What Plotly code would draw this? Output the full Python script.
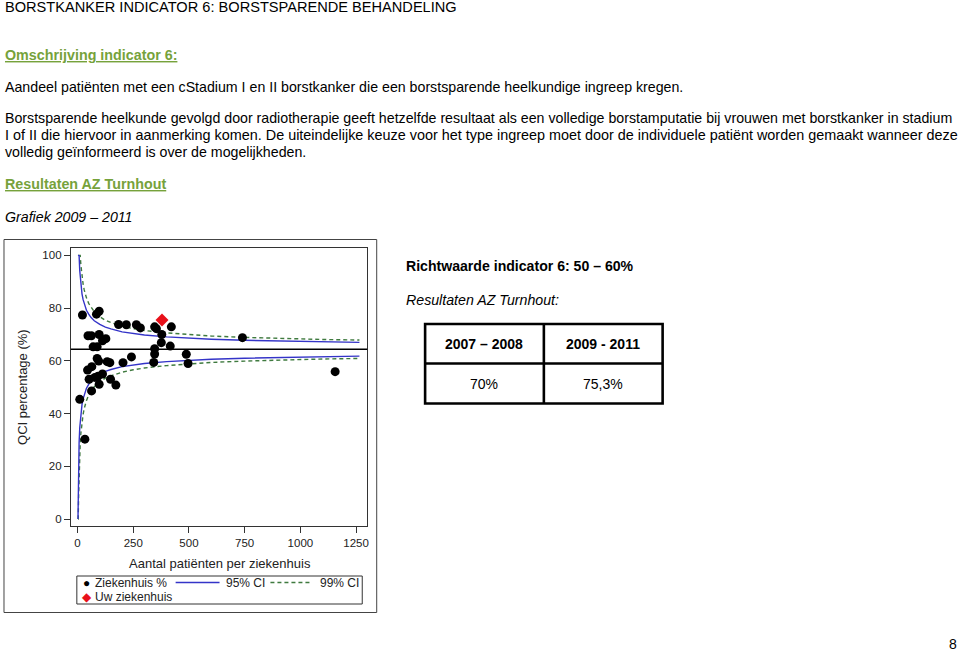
import plotly.graph_objects as go

W, H = 960, 651
FONT = "Liberation Sans, Arial, sans-serif"
GREEN = "#76a23b"

# ---------------- data ----------------
hosp_n = [10, 22, 33, 45, 47, 52, 62, 64, 63, 70, 78, 85, 88, 88, 92, 95, 97, 97, 97,
          112, 112, 127, 133, 145, 148, 172, 184, 204, 219, 242, 264, 282, 342, 346,
          346, 346, 354, 376, 378, 416, 421, 488, 496, 740, 1156]
hosp_pct = [45.4, 77.4, 30.3, 56.5, 69.5, 53.0, 69.5, 57.8, 48.6, 65.3, 53.7, 77.7, 65.3,
            60.9, 54.2, 59.9, 78.8, 70.0, 51.1, 67.6, 55.0, 68.4, 59.7, 59.3, 53.0, 50.8,
            73.8, 59.3, 73.7, 61.5, 73.7, 72.5, 59.4, 62.6, 64.6, 72.9, 72.2, 66.9, 70.0,
            65.6, 72.9, 62.5, 59.0, 68.8, 55.9]

own_n = [379]
own_pct = [75.5]

overall_mean = 64.4

ci_n = [2, 3, 5, 7, 10, 12, 15, 20, 25, 30, 35, 40, 50, 60, 75, 100, 125, 150, 200, 250,
        300, 400, 500, 600, 750, 900, 1000, 1100, 1265]
upper95 = [100, 100, 100, 99.9, 94.1, 91.5, 88.6, 85.4, 83.2, 81.5, 80.3, 79.2, 77.7, 76.5,
           75.2, 73.8, 72.8, 72.1, 71.0, 70.3, 69.8, 69.1, 68.6, 68.2, 67.8, 67.5, 67.4,
           67.2, 67.0]
lower95 = [0, 10.2, 22.4, 28.9, 34.7, 37.3, 40.2, 43.4, 45.6, 47.3, 48.5, 49.6, 51.1, 52.3,
           53.6, 55.0, 56.0, 56.7, 57.8, 58.5, 59.0, 59.7, 60.2, 60.6, 61.0, 61.3, 61.4,
           61.6, 61.8]
upper99 = [100, 100, 100, 100, 100, 100, 96.3, 92.0, 89.1, 86.9, 85.3, 83.9, 81.8, 80.3,
           78.6, 76.7, 75.4, 74.5, 73.1, 72.2, 71.5, 70.6, 69.9, 69.4, 68.9, 68.5, 68.3,
           68.1, 67.9]
lower99 = [0, 0, 9.2, 17.8, 25.4, 28.8, 32.6, 36.8, 39.7, 41.9, 43.6, 44.9, 47.0, 48.5,
           50.2, 52.1, 53.4, 54.3, 55.7, 56.6, 57.3, 58.2, 58.9, 59.4, 59.9, 60.3, 60.5,
           60.7, 60.9]

x_ticks = [0, 250, 500, 750, 1000, 1250]
y_ticks = [0, 20, 40, 60, 80, 100]

table_header = ["2007 – 2008", "2009 - 2011"]
table_values = ["70%", "75,3%"]


def px(x):
    return x / W


def py(y):
    return 1 - y / H


BLUE = "#3434c8"
DGREEN = "#3f7a3f"

fig = go.Figure()
fig.add_trace(go.Scatter(x=ci_n, y=upper99, mode="lines", showlegend=False,
                         line=dict(color=DGREEN, width=1.4, dash="4px,3px")))
fig.add_trace(go.Scatter(x=ci_n, y=lower99, mode="lines", showlegend=False,
                         line=dict(color=DGREEN, width=1.4, dash="4px,3px")))
fig.add_trace(go.Scatter(x=ci_n, y=upper95, mode="lines", showlegend=False,
                         line=dict(color=BLUE, width=1.4)))
fig.add_trace(go.Scatter(x=ci_n, y=lower95, mode="lines", showlegend=False,
                         line=dict(color=BLUE, width=1.4)))
fig.add_trace(go.Scatter(x=hosp_n, y=hosp_pct, mode="markers", showlegend=False,
                         marker=dict(color="black", size=9, line=dict(width=0))))
fig.add_trace(go.Scatter(x=own_n, y=own_pct, mode="markers", showlegend=False,
                         marker=dict(color="#e8101a", size=10, symbol="diamond",
                                     line=dict(width=0))))

shapes = []
# mean line
shapes.append(dict(type="line", xref="x domain", yref="y", x0=0, x1=1,
                   y0=overall_mean, y1=overall_mean, line=dict(color="black", width=1.3)))
# outer chart box
shapes.append(dict(type="rect", xref="paper", yref="paper", x0=px(4), x1=px(377.5),
                   y0=py(612.5), y1=py(239.5), line=dict(color="#444", width=1)))
# legend box
shapes.append(dict(type="rect", xref="paper", yref="paper", x0=px(77), x1=px(363),
                   y0=py(604), y1=py(576), line=dict(color="#333", width=1)))
# legend lines
shapes.append(dict(type="line", xref="paper", yref="paper", x0=px(176), x1=px(220),
                   y0=py(582.5), y1=py(582.5), line=dict(color=BLUE, width=1.3)))
shapes.append(dict(type="line", xref="paper", yref="paper", x0=px(271), x1=px(313),
                   y0=py(582.5), y1=py(582.5), line=dict(color=DGREEN, width=1.3, dash="4px,3px")))
# table
tl, tm, tr = 426, 545, 664
tt, tmid, tb = 324, 363.5, 403.5
shapes.append(dict(type="rect", xref="paper", yref="paper", x0=px(tl), x1=px(tr),
                   y0=py(tb), y1=py(tt), line=dict(color="black", width=2.6)))
shapes.append(dict(type="line", xref="paper", yref="paper", x0=px(tm), x1=px(tm),
                   y0=py(tb), y1=py(tt), line=dict(color="black", width=2.6)))
shapes.append(dict(type="line", xref="paper", yref="paper", x0=px(tl), x1=px(tr),
                   y0=py(tmid), y1=py(tmid), line=dict(color="black", width=2.6)))

ann = []


def text(x, y, s, size=14, color="black", anchor="left", angle=0):
    ann.append(dict(xref="paper", yref="paper", x=px(x), y=py(y), text=s, showarrow=False,
                    xanchor=anchor, yanchor="middle", textangle=angle,
                    font=dict(family=FONT, size=size, color=color)))


text(3, 7, "BORSTKANKER INDICATOR 6: BORSTSPARENDE BEHANDELING", size=14.6)
text(3, 55, "<b><u>Omschrijving indicator 6:</u></b>", size=14.3, color=GREEN)
text(3, 87, "Aandeel patiënten met een cStadium I en II borstkanker die een borstsparende heelkundige ingreep kregen.", size=14.2)
text(3, 118, "Borstsparende heelkunde gevolgd door radiotherapie geeft hetzelfde resultaat als een volledige borstamputatie bij vrouwen met borstkanker in stadium", size=14.2)
text(3, 135, "I of II die hiervoor in aanmerking komen. De uiteindelijke keuze voor het type ingreep moet door de individuele patiënt worden gemaakt wanneer deze", size=14.4)
text(3, 152, "volledig geïnformeerd is over de mogelijkheden.", size=14.2)
text(3, 184, "<b><u>Resultaten AZ Turnhout</u></b>", size=14.3, color=GREEN)
text(3, 217, "<i>Grafiek 2009 – 2011</i>", size=14.2)

text(405, 266, "<b>Richtwaarde indicator 6: 50 – 60%</b>", size=14.1)
text(405, 300, "<i>Resultaten AZ Turnhout:</i>", size=14.2)
text((tl + tm) / 2, 344, "<b>" + table_header[0] + "</b>", size=14, anchor="center")
text((tm + tr) / 2, 344, "<b>" + table_header[1] + "</b>", size=14, anchor="center")
text((tl + tm) / 2, 384, table_values[0], size=14, anchor="center")
text((tm + tr) / 2, 384, table_values[1], size=14, anchor="center")

# axis titles
text(220, 563, "Aantal patiënten per ziekenhuis", size=13, color="#222", anchor="center")
ann.append(dict(xref="paper", yref="paper", x=px(22), y=py(387), text="QCI percentage (%)",
                showarrow=False, xanchor="center", yanchor="middle", textangle=-90,
                font=dict(family=FONT, size=13, color="#222")))

# legend
text(81, 582.5, "●", size=12, color="black")
text(80.5, 597, "◆", size=12, color="#e8101a")
text(93, 582.5, "Ziekenhuis %", size=12, color="#222")
text(224, 582.5, "95% CI", size=12, color="#222")
text(319, 582.5, "99% CI", size=12, color="#222")
text(93, 597, "Uw ziekenhuis", size=12, color="#222")

# page number
text(955, 644, "8", size=14, anchor="center")

fig.update_layout(
    width=W, height=H, margin=dict(l=0, r=0, t=0, b=0),
    paper_bgcolor="white", plot_bgcolor="white",
    showlegend=False, shapes=shapes, annotations=ann,
    font=dict(family=FONT),
    xaxis=dict(domain=[px(71), px(368)], range=[-30, 1300], tickvals=x_ticks,
               ticks="outside", ticklen=6, tickcolor="#333", showline=True, mirror=True,
               linecolor="#333", linewidth=1, showgrid=False, zeroline=False,
               tickfont=dict(family=FONT, size=11.5, color="#222")),
    yaxis=dict(domain=[py(526), py(248)], range=[-2.65, 102.8], tickvals=y_ticks,
               ticks="outside", ticklen=6, tickcolor="#333", showline=True, mirror=True,
               linecolor="#333", linewidth=1, showgrid=False, zeroline=False,
               tickfont=dict(family=FONT, size=11.5, color="#222")),
)

fig.write_html("out.html")
